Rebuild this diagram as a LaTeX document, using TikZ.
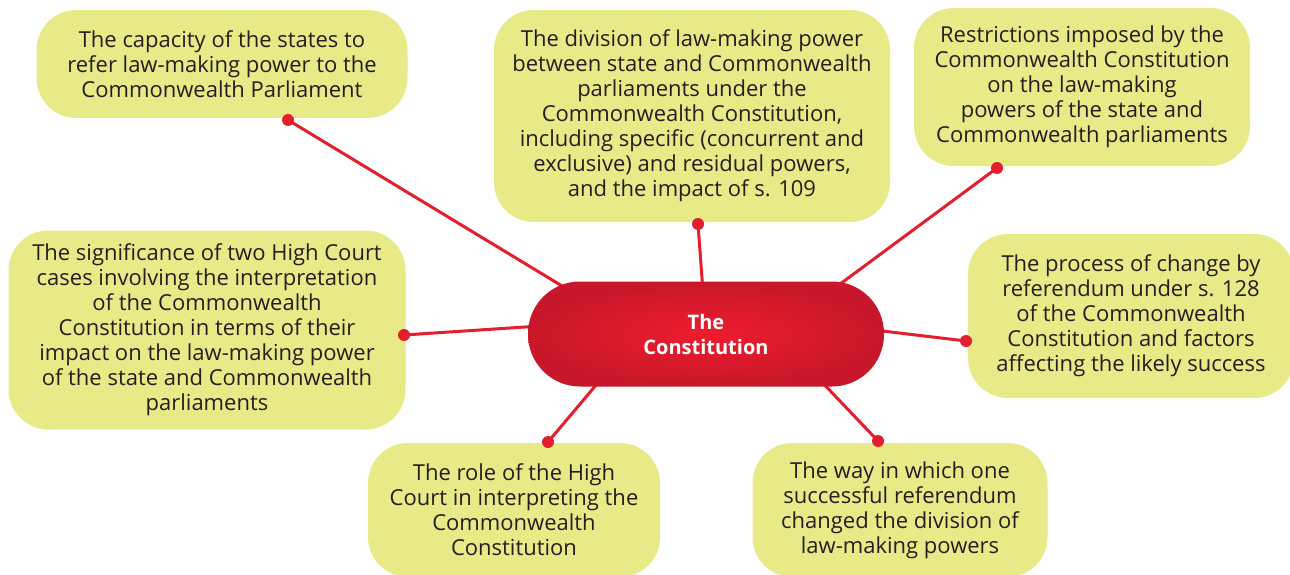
\documentclass[tikz,border=0pt]{standalone}
\usepackage{fontspec}
\setmainfont{Open Sans}
\definecolor{boxyellow}{HTML}{E8EA87}
\definecolor{linkred}{HTML}{E41F2D}
\definecolor{txt}{HTML}{231F20}
\definecolor{cin}{HTML}{EE1C2E}
\definecolor{cout}{HTML}{C8172A}
\tikzset{
  topic/.style={fill=boxyellow, rounded corners=40pt, align=center, text=txt,
    font=\fontsize{22}{25}\selectfont, inner sep=0pt},
  dot/.style={circle, fill=linkred, minimum size=12pt, inner sep=0pt},
  link/.style={draw=linkred, line width=3pt},
}
\begin{document}
\begin{tikzpicture}[x=1pt,y=-1pt]
\useasboundingbox (0,0) rectangle (1290,575);
\clip (0,0) rectangle (1290,575);
\fill[white] (0,0) rectangle (1290,575);

% topic boxes
\node[topic, minimum width=371pt, minimum height=108pt] (b1) at (222,64)
  {The capacity of the states to\\refer law-making power to the\\Commonwealth Parliament};
\node[topic, minimum width=396pt, minimum height=212pt] (b2) at (692,116)
  {The division of law-making power\\between state and Commonwealth\\parliaments under the\\Commonwealth Constitution,\\including specific (concurrent and\\exclusive) and residual powers,\\and the impact of s. 109};
\node[topic, minimum width=336pt, minimum height=158pt] (b3) at (1082,87)
  {Restrictions imposed by the\\Commonwealth Constitution\\on the law-making\\powers of the state and\\Commonwealth parliaments};
\node[topic, minimum width=397pt, minimum height=199pt] (b4) at (207,330)
  {The significance of two High Court\\cases involving the interpretation\\of the Commonwealth\\Constitution in terms of their\\impact on the law-making power\\of the state and Commonwealth\\parliaments};
\node[topic, minimum width=326pt, minimum height=164pt] (b5) at (1131,316)
  {The process of change by\\referendum under s. 128\\of the Commonwealth\\Constitution and factors\\affecting the likely success};
\node[topic, minimum width=292pt, minimum height=134pt] (b6) at (514,510)
  {The role of the High\\Court in interpreting the\\Commonwealth\\Constitution};
\node[topic, minimum width=295pt, minimum height=134pt] (b7) at (900,510)
  {The way in which one\\successful referendum\\changed the division of\\law-making powers};

% connector end points on the central node
\coordinate (cc) at (706,334);
\coordinate (e1) at (572,292);
\coordinate (e2) at (703,292);
\coordinate (e3) at (832,290);
\coordinate (e4) at (540,326);
\coordinate (e5) at (874,330);
\coordinate (e6) at (602,378);
\coordinate (e7) at (818,378);

% dots
\node[dot] (d1) at (288,120) {};
\node[dot] (d2) at (698,224) {};
\node[dot] (d3) at (997,168) {};
\node[dot] (d4) at (404,335) {};
\node[dot] (d5) at (966,341) {};
\node[dot] (d6) at (548,442) {};
\node[dot] (d7) at (878,441) {};

\draw[link] (d1.center) -- (e1);
\draw[link] (d2.center) -- (e2);
\draw[link] (d3.center) -- (e3);
\draw[link] (d4.center) -- (e4);
\draw[link] (d5.center) -- (e5);
\draw[link] (d6.center) -- (e6);
\draw[link] (d7.center) -- (e7);

% central node
\node[rounded corners=52pt, minimum width=356pt, minimum height=105pt,
  inner color=cin, outer color=cout, text=white, align=center,
  font=\bfseries\fontsize{20}{25}\selectfont] (c) at (cc)
  {The\\Constitution};
\end{tikzpicture}
\end{document}
